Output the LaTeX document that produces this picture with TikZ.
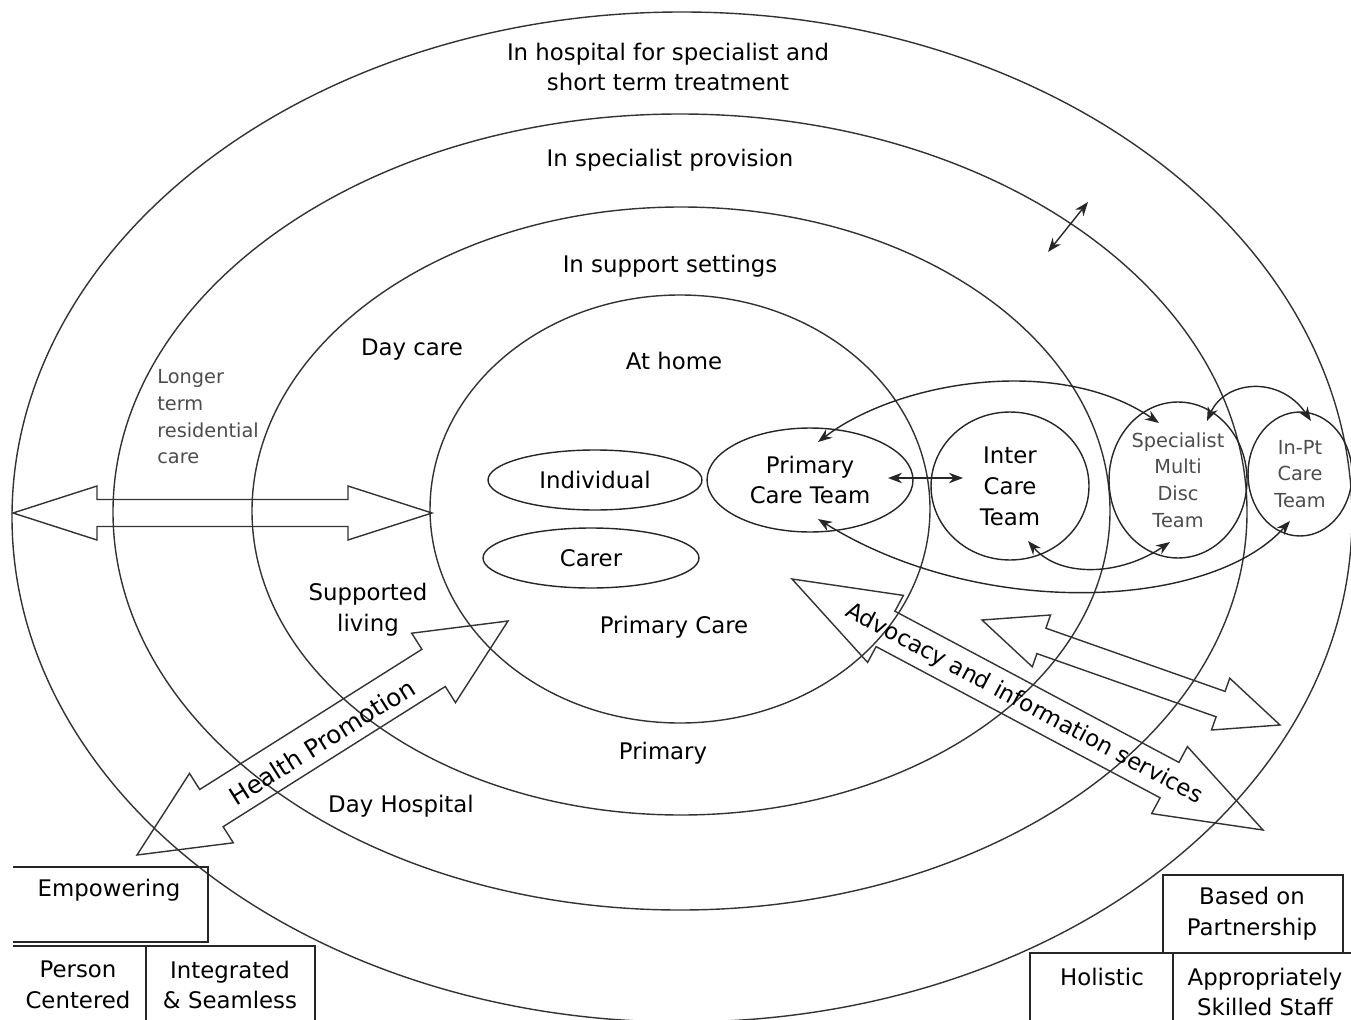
\documentclass[tikz,border=0pt]{standalone}
\usepackage{fontspec}
\setmainfont{DejaVu Sans}
\usetikzlibrary{shapes.geometric,arrows.meta}
\tikzset{
  lbl/.style={font=\fontsize{13}{17.6}\selectfont, align=center, inner sep=0pt},
  thinlbl/.style={font=\fontsize{11}{15.2}\selectfont, text=black!70, align=center, inner sep=0pt},
  ring/.style={draw=black!80, line width=0.8pt},
  team/.style={ellipse, draw=black!85, line width=0.8pt, inner sep=0pt, outer sep=0pt},
  blockarrow/.style={draw=black!80, line width=0.8pt, line join=miter},
  link/.style={<->, draw=black!85, line width=0.8pt},
  boxline/.style={draw=black!85, line width=0.8pt},
}
\begin{document}
\begin{tikzpicture}[x=0.02cm, y=-0.02cm, >={Stealth[length=8pt,width=6pt]}]
	\useasboundingbox (0,0) rectangle (1351,1020);
	\clip (0,0) rectangle (1351,1020);
	
	% --- the four rings ---
	\draw[ring] (682,517) ellipse [x radius=670, y radius=505];
	\draw[ring] (680,512) ellipse [x radius=567, y radius=398];
	\draw[ring] (681,511) ellipse [x radius=429, y radius=304];
	\draw[ring] (680,509) ellipse [x radius=250, y radius=214];
	
	% labels of the rings
	\node[lbl] (hosp) at (668,67) {In hospital for specialist and\\short term treatment};
	\node[lbl] (provision) at (670,160) {In specialist provision};
	\node[lbl] (support) at (670,266) {In support settings};
	\node[lbl] (athome) at (674,361) {At home};
	\node[lbl] (daycare) at (412,350) {Day care};
	\node[thinlbl, anchor=west, align=left] (longer) at (157,417) {Longer\\term\\residential\\care};
	\node[lbl] (supported) at (368,610) {Supported\\living};
	\node[lbl] (primcare) at (674,627) {Primary Care};
	\node[lbl] (primary) at (663,753) {Primary};
	\node[lbl] (dayhosp) at (401,806) {Day Hospital};
	
	% --- individual and carer ---
	\node[team, lbl, minimum width=4.28cm, minimum height=1.2cm] (indiv) at (595,480) {Individual};
	\node[team, lbl, minimum width=4.32cm, minimum height=1.2cm] (carer) at (591,558) {Carer};
	
	% --- the teams ---
	\node[team, lbl, minimum width=4.12cm, minimum height=2.08cm] (pct) at (810,480) {Primary\\Care Team};
	\node[team, lbl, minimum width=3.16cm, minimum height=2.96cm] (ict) at (1010,486) {Inter\\Care\\Team};
	\node[team, thinlbl, minimum width=2.76cm, minimum height=3.12cm] (smd) at (1178,480) {Specialist\\Multi\\Disc\\Team};
	\node[team, thinlbl, minimum width=2.08cm, minimum height=2.48cm] (inpt) at (1300,474) {In-Pt\\Care\\Team};
	
	% links between the teams
	\draw[link] ([shift={(78,-2)}]pct.center) -- ([shift={(-47,-8)}]ict.center);
	\draw[link] ([shift={(8,-38)}]pct.center) .. controls (900,380) and (1060,355) .. ([shift={(-19,-57)}]smd.center);
	\draw[link] ([shift={(29,-59)}]smd.center) .. controls (1225,380) and (1280,375) .. ([shift={(11,-53)}]inpt.center);
	\draw[link] ([shift={(18,55)}]ict.center) .. controls (1060,578) and (1120,576) .. ([shift={(-8,62)}]smd.center);
	\draw[link] ([shift={(8,39)}]pct.center) .. controls (980,620) and (1210,610) .. ([shift={(-10,47)}]inpt.center);
	
	% small arrow across the second ring
	\coordinate (sa1) at (1048,252);
	\coordinate (sa2) at (1088,202);
	\draw[link] (sa1) -- (sa2);
	
	% --- block arrows ---
	\draw[blockarrow] (13,513) -- (97,540) -- (97,526.5) -- (348,526.5) -- (348,540) -- (432,513)
	-- (348,486) -- (348,499.5) -- (97,499.5) -- (97,486) -- cycle;
	
	\draw[blockarrow] (137,855) -- (233.3,842.8) -- (223.1,826.7) -- (445.3,686.5) -- (455.5,702.6) -- (508,621)
	-- (411.7,633.2) -- (421.9,649.3) -- (199.7,789.5) -- (189.5,773.4) -- cycle;
	\node[lbl, font=\fontsize{14}{16}\selectfont, rotate=32.2] (health) at (322,742) {Health Promotion};
	
	\draw[blockarrow] (792,579) -- (867.6,662.4) -- (876.1,646.6) -- (1160.1,797.8) -- (1151.6,813.6) -- (1263,830)
	-- (1187.4,746.6) -- (1178.9,762.4) -- (894.9,611.2) -- (903.4,595.4) -- cycle;
	\node[lbl, rotate=-28.05] (advocacy) at (1024,704) {Advocacy and information services};
	
	\draw[blockarrow] (982,620) -- (1032.3,666.8) -- (1036.9,653.6) -- (1216.1,716.8) -- (1211.5,730) -- (1280,725)
	-- (1229.7,678.2) -- (1225.1,691.4) -- (1045.9,628.2) -- (1050.5,615) -- cycle;
	
	% --- principles, bottom left ---
	\draw[boxline] (13,867) -- (208,867) -- (208,942) -- (13,942);
	\node[lbl] (empower) at (109,890) {Empowering};
	\draw[boxline] (146,1020) -- (146,946) -- (13,946);
	\draw[boxline] (146,946) -- (315,946) -- (315,1020);
	\node[lbl] (person) at (78,985) {Person\\Centered};
	\node[lbl] (integr) at (230,985) {Integrated\\\& Seamless};
	
	% --- principles, bottom right ---
	\draw[boxline] (1163,875) rectangle (1343,953);
	\node[lbl] (partner) at (1252,914) {Based on\\Partnership};
	\draw[boxline] (1030,1020) -- (1030,953) -- (1351,953);
	\draw[boxline] (1173,953) -- (1173,1020);
	\node[lbl] (holistic) at (1102,977) {Holistic};
	\node[lbl] (skilled) at (1265,992) {Appropriately\\Skilled Staff};
\end{tikzpicture}
\end{document}
